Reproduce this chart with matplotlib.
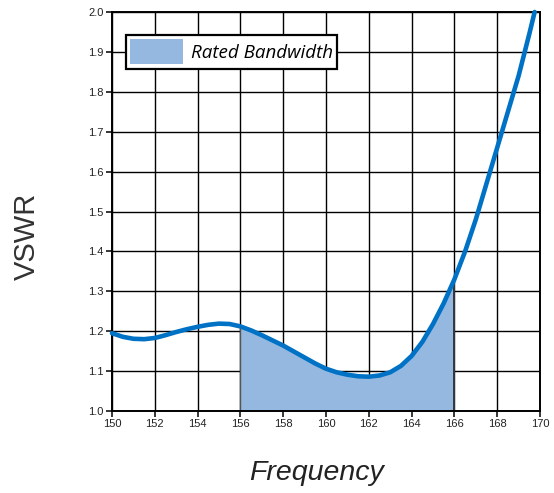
import matplotlib
matplotlib.use("Agg")
import matplotlib.pyplot as plt
import numpy as np
from matplotlib.patches import Patch

freq = [150, 150.5, 151, 151.5, 152, 152.5, 153, 153.5, 154, 154.5, 155, 155.5,
        156, 156.5, 157, 157.5, 158, 158.5, 159, 159.5, 160, 160.5, 161, 161.5,
        162, 162.5, 163, 163.5, 164, 164.5, 165, 165.5, 166, 166.5, 167, 167.5,
        168, 168.5, 169, 169.5, 169.75]
vswr = [1.195, 1.186, 1.181, 1.180, 1.183, 1.190, 1.198, 1.205, 1.211, 1.216, 1.219, 1.218,
        1.212, 1.202, 1.190, 1.177, 1.164, 1.149, 1.134, 1.119, 1.106, 1.097, 1.091, 1.087,
        1.086, 1.089, 1.097, 1.113, 1.138, 1.173, 1.218, 1.270, 1.330, 1.400, 1.480, 1.570,
        1.660, 1.750, 1.840, 1.945, 2.000]
band = (156, 166)
xticks = [150, 152, 154, 156, 158, 160, 162, 164, 166, 168, 170]
yticks = [1.0, 1.1, 1.2, 1.3, 1.4, 1.5, 1.6, 1.7, 1.8, 1.9, 2.0]

line_color = "#0072c6"
fill_color = "#95b8e0"

fig = plt.figure(figsize=(5.54, 4.93), dpi=100)
ax = fig.add_axes([112/554, 1-411/493, 428/554, 399/493])

f = np.array(freq)
v = np.array(vswr)
mask = (f >= band[0]) & (f <= band[1])
ax.fill_between(f[mask], 1.0, v[mask], color=fill_color, lw=0, zorder=1)
ax.plot([band[0], band[0]], [1.0, v[f == band[0]][0]], color="#555555", lw=1, zorder=1.5)
ax.plot([band[1], band[1]], [1.0, v[f == band[1]][0]], color="#222222", lw=1.2, zorder=1.5)
ax.plot(f, v, color=line_color, lw=3.3, solid_capstyle="round", solid_joinstyle="round",
        zorder=3, clip_on=False)

ax.set_xlim(150, 170)
ax.set_ylim(1.0, 2.0)
ax.set_xticks(xticks)
ax.set_yticks(yticks)
ax.set_xticklabels([str(t) for t in xticks])
ax.set_yticklabels([f"{t:.1f}" for t in yticks])
ax.grid(True, color="black", lw=1.0, zorder=0)
ax.set_axisbelow(True)
for s in ax.spines.values():
    s.set_color("black")
    s.set_linewidth(1.4)
ax.tick_params(direction="out", length=4, width=1.1, colors="black",
               labelsize=8, labelcolor="#222222", pad=2)
for lab in ax.get_xticklabels() + ax.get_yticklabels():
    lab.set_fontfamily("Liberation Sans")

fig.text(27/554, 1-236/493, "VSWR", rotation=90, ha="center", va="center",
         fontsize=21, color="#333333", family="Liberation Sans")
fig.text(316/554, 1-473/493, "Frequency", ha="center", va="center",
         fontsize=20.5, color="#222222", family="Liberation Sans", style="italic")

leg = ax.legend(handles=[Patch(facecolor=fill_color, edgecolor="none", label="Rated Bandwidth")],
                loc="upper left", bbox_to_anchor=(14/428, 1-23/399), borderaxespad=0,
                frameon=True, fancybox=False, framealpha=1, edgecolor="black",
                handlelength=2.8, handleheight=1.7, borderpad=0.22, handletextpad=0.45,
                prop={"family": "Open Sans", "style": "italic", "size": 13.5})
leg.get_frame().set_linewidth(1.6)
leg.set_zorder(5)

fig.savefig("out.png", dpi=100)
